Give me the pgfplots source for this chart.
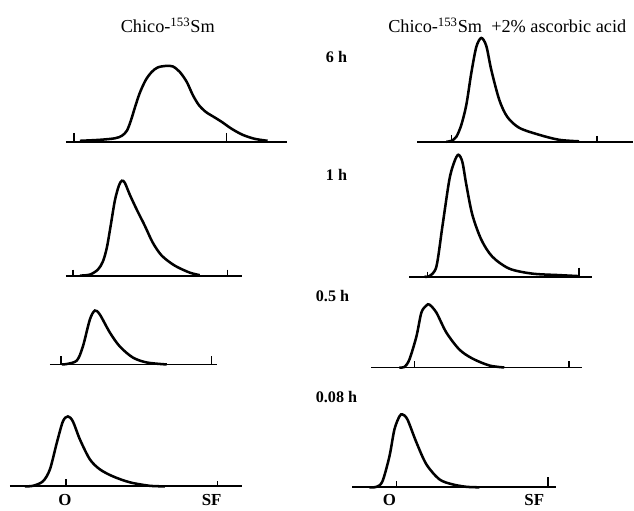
\documentclass[border=0pt]{standalone}
\usepackage{pgfplots}
\pgfplotsset{compat=1.18}
\usepackage{fontspec}
\setmainfont{Liberation Serif}
\begin{document}
\begin{tikzpicture}
\begin{axis}[
  scale only axis, width=15.85cm, height=12.775cm,
  xmin=0, xmax=634, ymin=0, ymax=511, y dir=reverse,
  hide axis, clip=false,
  curve/.style={black, line width=1.8pt, smooth, tension=0.5},
  base/.style={black, line width=1.3pt},
  tk/.style={black, line width=1.1pt},
]
\draw[draw=none] (rel axis cs:0,0) rectangle (rel axis cs:1,1);
% ---------- 6 h ----------
\addplot[base] coordinates {(66,142) (287,142)};
\addplot[tk] coordinates {(74,133) (74,142)};
\addplot[tk] coordinates {(227,133) (227,142)};
\addplot[curve] coordinates {(80,141) (100,140) (115,138.5) (122,136) (127,131) (131,121) (135,108) (140,93) (146,80) (152,72) (158,67.5) (166,66) (173,66.5) (180,72) (187,82) (193,95) (199,105) (206,112) (214,117) (222,122) (232,129) (243,135) (255,139) (268,141)};
\addplot[base] coordinates {(418,142) (634,142)};
\addplot[tk] coordinates {(452,135) (452,142)};
\addplot[tk] coordinates {(598,136) (598,142)};
\addplot[curve] coordinates {(447,142) (452,141) (457,137) (462,125) (467,105) (472,73) (477,47) (482,38) (487,46) (492,70) (500,100) (508,117) (520,128) (540,135) (560,140) (580,141.5)};
% ---------- 1 h ----------
\addplot[base] coordinates {(66,276) (242,276)};
\addplot[tk] coordinates {(73,270) (73,276)};
\addplot[tk] coordinates {(228,270) (228,276)};
\addplot[curve] coordinates {(80,276) (90,275) (98,270) (103,262) (107,248) (111,225) (115,201) (119,186) (122,181) (125,183) (130,195) (137,210) (145,226) (153,243) (162,256) (175,266) (190,273) (200,275.5)};
\addplot[base] coordinates {(410,277) (593,277)};
\addplot[tk] coordinates {(428,272) (428,277)};
\addplot[tk] coordinates {(580,268) (580,277)};
\addplot[curve] coordinates {(425,277) (430,276.5) (437,267) (443,227) (450,180) (455,162) (459,155) (463,162) (467,185) (473,215) (482,240) (493,257) (510,269) (533,274) (560,275.5) (580,276.5)};
% ---------- 0.5 h ----------
\addplot[base] coordinates {(50,365) (217,365)};
\addplot[tk] coordinates {(61,357) (61,365)};
\addplot[tk] coordinates {(212,357) (212,365)};
\addplot[curve] coordinates {(62,365) (67,364.5) (77,361) (83,347) (90,320) (95,311) (100,315) (110,333) (120,347) (133,358) (147,363) (167,365)};
\addplot[base] coordinates {(372,368) (583,368)};
\addplot[tk] coordinates {(415,362) (415,368)};
\addplot[tk] coordinates {(570,362) (570,368)};
\addplot[curve] coordinates {(400,368) (405,367.5) (410,360) (417,337) (422,313) (427,306) (430,305) (437,313) (447,333) (460,350) (473,359) (490,366) (505,368)};
% ---------- 0.08 h ----------
\addplot[base] coordinates {(10,487) (242,487)};
\addplot[tk] coordinates {(66,480) (66,487)};
\addplot[tk] coordinates {(218,482) (218,487)};
\addplot[curve] coordinates {(25,487) (33,486.5) (43,482) (50,470) (57,443) (63,422) (68,417) (73,422) (80,440) (90,460) (100,470) (113,477) (130,483) (150,486.5) (165,487)};
\addplot[base] coordinates {(353,488) (557,488)};
\addplot[tk] coordinates {(397,482) (397,488)};
\addplot[tk] coordinates {(549,478) (549,488)};
\addplot[curve] coordinates {(370,488) (377,487.5) (383,482) (390,457) (395,430) (400,417) (403,415) (408,420) (417,443) (427,465) (440,480) (453,485) (467,487.5) (480,488)};
% ---------- texts ----------
\node[font=\fontsize{13}{15}\selectfont] at (axis cs:168,25) {Chico-\textsuperscript{153}Sm};
\node[font=\fontsize{13}{15}\selectfont] at (axis cs:508,25) {Chico-\textsuperscript{153}Sm\ \ +2\% ascorbic acid};
\node[font=\fontsize{11.5}{13}\selectfont\bfseries] at (axis cs:337,57) {6 h};
\node[font=\fontsize{11.5}{13}\selectfont\bfseries] at (axis cs:337,175) {1 h};
\node[font=\fontsize{11.5}{13}\selectfont\bfseries] at (axis cs:333,296) {0.5 h};
\node[font=\fontsize{11.5}{13}\selectfont\bfseries] at (axis cs:337,398) {0.08 h};
\node[font=\fontsize{12}{14}\selectfont\bfseries] at (axis cs:65,501) {O};
\node[font=\fontsize{12}{14}\selectfont\bfseries] at (axis cs:212,501) {SF};
\node[font=\fontsize{12}{14}\selectfont\bfseries] at (axis cs:390,501) {O};
\node[font=\fontsize{12}{14}\selectfont\bfseries] at (axis cs:535,501) {SF};
\end{axis}
\end{tikzpicture}
\end{document}
